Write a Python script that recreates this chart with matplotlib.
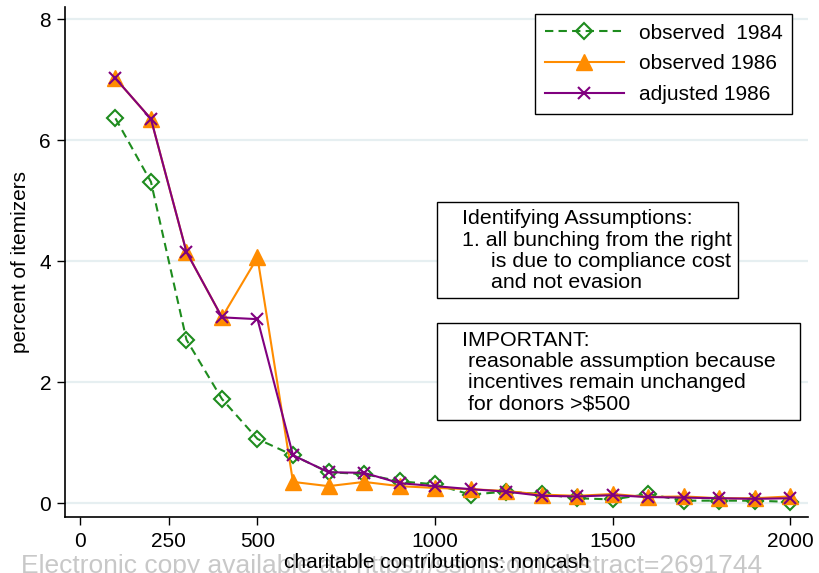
import matplotlib
matplotlib.use("Agg")
import matplotlib.pyplot as plt
from matplotlib.patches import Rectangle

plt.rcParams['font.family'] = ['Liberation Sans', 'DejaVu Sans']

x_vals = [100, 200, 300, 400, 500, 600, 700, 800, 900, 1000,
          1100, 1200, 1300, 1400, 1500, 1600, 1700, 1800, 1900, 2000]
obs1984 = [6.36, 5.31, 2.70, 1.72, 1.06, 0.79, 0.51, 0.48, 0.36, 0.31,
           0.14, 0.19, 0.15, 0.08, 0.06, 0.15, 0.04, 0.04, 0.04, 0.02]
obs1986 = [7.02, 6.35, 4.15, 3.07, 4.06, 0.35, 0.28, 0.35, 0.28, 0.25,
           0.23, 0.20, 0.14, 0.12, 0.15, 0.10, 0.11, 0.08, 0.08, 0.11]
adj1986 = [7.02, 6.35, 4.15, 3.07, 3.04, 0.79, 0.51, 0.50, 0.33, 0.28,
           0.23, 0.19, 0.12, 0.11, 0.13, 0.10, 0.09, 0.08, 0.07, 0.08]
labels = ['observed  1984', 'observed 1986', 'adjusted 1986']
xticks = [0, 250, 500, 1000, 1500, 2000]
yticks = [0, 2, 4, 6, 8]

W, H = 819, 573
fig = plt.figure(figsize=(W / 100, H / 100), dpi=100)
ax = fig.add_axes([65 / W, (H - 517) / H, (808 - 65) / W, (517 - 7) / H])

green = '#1e8c1e'
orange = '#ff8c00'
purple = '#80007f'

ax.plot(x_vals, obs1984, color=green, ls=(0, (4, 2.5)), lw=1.5, marker='D',
        ms=8, mfc='none', mec=green, mew=1.5, label=labels[0], zorder=3)
ax.plot(x_vals, obs1986, color=orange, lw=1.5, marker='^', ms=11,
        mfc=orange, mec=orange, label=labels[1], zorder=4)
ax.plot(x_vals, adj1986, color=purple, lw=1.5, marker='x', ms=9, mew=1.5,
        label=labels[2], zorder=5)

ax.set_xlim(-42, 2050)
ax.set_ylim(-0.23, 8.2)
ax.set_xticks(xticks)
ax.set_yticks(yticks)
ax.set_yticklabels([str(v) for v in yticks])
ax.tick_params(axis='both', labelsize=15, length=6, width=1, direction='out')
ax.tick_params(axis='x', pad=5)
ax.tick_params(axis='y', pad=4)
ax.yaxis.grid(True, color='#e6eff1', lw=1.6)
ax.set_axisbelow(True)
for s in ['top', 'right']:
    ax.spines[s].set_visible(False)
for s in ['left', 'bottom']:
    ax.spines[s].set_linewidth(1.2)

ax.set_ylabel('percent of itemizers', fontsize=15, labelpad=7)
fig.text(437 / W, 1 - 562 / H, 'charitable contributions: noncash', fontsize=15,
         ha='center', va='center')
fig.text(392 / W, 1 - 566 / H,
         'Electronic copy available at: https://ssrn.com/abstract=2691744',
         fontsize=19, color='#c8c8c8', ha='center', va='center', zorder=0)

leg = ax.legend(loc='upper left', bbox_to_anchor=(535 / W, 1 - 14 / H),
                bbox_transform=fig.transFigure, fontsize=15, frameon=True,
                fancybox=False, edgecolor='black', framealpha=1,
                handlelength=3.8, handletextpad=0.7, labelspacing=0.56,
                borderpad=0.47, borderaxespad=0)
leg.get_frame().set_linewidth(1.0)

# text boxes
def pbox(x0, y0, x1, y1):
    r = Rectangle((x0 / W, 1 - y1 / H), (x1 - x0) / W, (y1 - y0) / H,
                  transform=fig.transFigure, fill=True, fc='white',
                  ec='black', lw=1.0, zorder=6)
    fig.patches.append(r)

pbox(437, 202, 738, 298)
box1 = ['Identifying Assumptions:', '1. all bunching from the right',
        'is due to compliance cost', 'and not evasion']
box1_x = [462, 462, 491, 491]
for i, t in enumerate(box1):
    fig.text(box1_x[i] / W, 1 - (219 + i * 21.3) / H, t, fontsize=15.4,
             ha='left', va='center', zorder=7)

pbox(437, 323, 800, 420)
box2 = ['IMPORTANT:', 'reasonable assumption because',
        'incentives remain unchanged', 'for donors >$500']
box2_x = [462, 468, 468, 468]
for i, t in enumerate(box2):
    fig.text(box2_x[i] / W, 1 - (340 + i * 21.4) / H, t, fontsize=15.4,
             ha='left', va='center', zorder=7)

fig.savefig('out.png', dpi=100)
